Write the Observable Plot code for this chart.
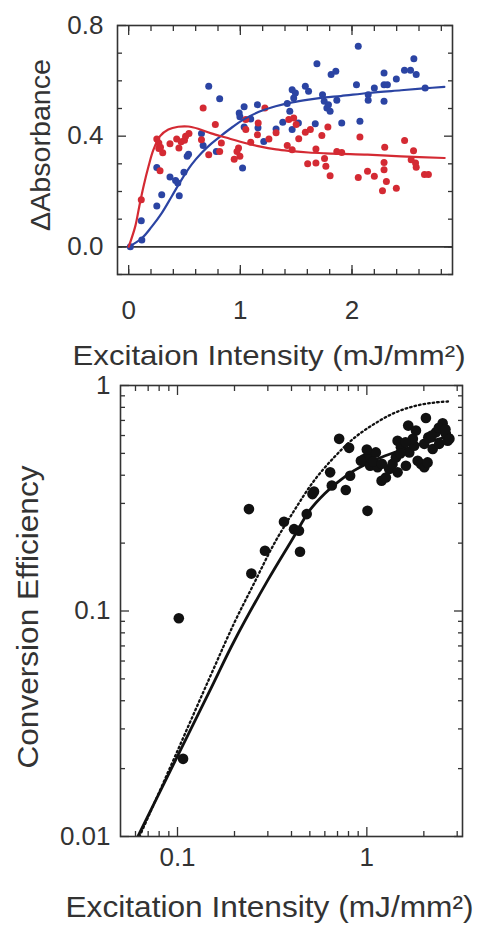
<!DOCTYPE html>
<html><head><meta charset="utf-8">
<script src="https://cdn.jsdelivr.net/npm/d3@7"></script>
<script src="https://cdn.jsdelivr.net/npm/@observablehq/plot@0.6"></script>
<style>
body{margin:0;background:#fff;}
#chart{width:480px;height:926px;}
#chart svg{display:block;}
</style></head><body><div id="chart"></div>
<script>
// ---------- Top panel data (ΔAbsorbance vs excitation intensity) ----------
const blueX = [0.015,0.118,0.113,0.252,0.296,0.252,0.37,0.42,0.44,0.453,0.495,0.524,0.536,0.652,0.667,0.717,0.815,0.785,0.99,1.034,0.996,1.093,1.153,1.034,1.158,1.02,1.21,1.32,1.38,1.42,1.443,1.464,1.493,1.478,1.464,1.52,1.582,1.611,1.686,1.671,1.736,1.751,1.775,1.789,1.804,1.813,1.855,1.864,1.908,2.056,2.04,2.071,2.145,2.145,2.2,2.287,2.287,2.317,2.287,2.397,2.47,2.524,2.554,2.575,2.655];
const blueY = [0.0,0.025,0.094,0.148,0.188,0.287,0.252,0.24,0.231,0.185,0.27,0.327,0.335,0.41,0.366,0.58,0.535,0.345,0.484,0.506,0.47,0.462,0.514,0.433,0.43,0.285,0.381,0.426,0.45,0.518,0.49,0.568,0.556,0.538,0.424,0.448,0.58,0.562,0.662,0.445,0.55,0.526,0.502,0.514,0.49,0.623,0.635,0.53,0.448,0.725,0.586,0.454,0.55,0.53,0.574,0.628,0.586,0.586,0.526,0.607,0.638,0.638,0.68,0.623,0.574];
const redX = [0.113,0.252,0.27,0.285,0.305,0.27,0.281,0.37,0.43,0.45,0.47,0.5,0.51,0.54,0.667,0.652,0.717,0.776,0.83,0.815,0.945,0.984,0.996,0.97,1.22,1.049,1.16,1.153,1.049,1.093,1.256,1.32,1.434,1.478,1.5,1.42,1.464,1.523,1.582,1.627,1.784,1.73,1.677,1.603,1.677,1.754,1.766,1.804,1.864,1.908,2.071,2.056,2.139,2.2,2.293,2.287,2.287,2.308,2.273,2.397,2.471,2.551,2.53,2.569,2.575,2.649,2.684];
const redY = [0.17,0.39,0.375,0.36,0.34,0.355,0.275,0.373,0.39,0.357,0.38,0.385,0.4,0.41,0.502,0.387,0.333,0.442,0.375,0.345,0.317,0.357,0.327,0.345,0.502,0.46,0.448,0.405,0.424,0.378,0.39,0.412,0.46,0.466,0.442,0.366,0.351,0.391,0.414,0.424,0.433,0.402,0.354,0.30,0.303,0.319,0.291,0.257,0.345,0.341,0.397,0.251,0.273,0.255,0.36,0.305,0.279,0.236,0.203,0.212,0.384,0.347,0.315,0.303,0.288,0.261,0.261];
const blueFitX = [0,0.118,0.207,0.296,0.385,0.474,0.563,0.652,0.74,0.829,0.933,1.02,1.167,1.316,1.464,1.612,1.76,1.9,2.145,2.44,2.649,2.827];
const blueFitY = [0,0.031,0.073,0.122,0.182,0.243,0.297,0.339,0.373,0.402,0.434,0.458,0.488,0.508,0.522,0.532,0.54,0.545,0.556,0.566,0.573,0.578];
const redFitX = [0,0.059,0.095,0.133,0.178,0.222,0.281,0.355,0.444,0.533,0.622,0.74,0.87,1.0,1.17,1.32,1.46,1.61,1.76,1.9,2.14,2.44,2.83];
const redFitY = [0,0.074,0.146,0.218,0.291,0.351,0.4,0.424,0.434,0.435,0.427,0.41,0.395,0.38,0.363,0.352,0.346,0.341,0.338,0.336,0.333,0.327,0.321];
const topXLabels = [0, 1, 2];
const topXMinor = [0,0.2,0.4,0.6,0.8,1,1.2,1.4,1.6,1.8,2,2.2,2.4,2.6,2.8];
const topYLabels = [0, 0.4, 0.8];
const topYMinor = [-0.1,0,0.1,0.2,0.3,0.5,0.6,0.7];

// ---------- Bottom panel data (conversion efficiency, log-log) ----------
const effX = [0.1016,0.107,0.2384,0.2455,0.2897,0.365,0.4125,0.438,0.4436,0.4814,0.516,0.526,0.64,0.653,0.714,0.806,0.774,0.816,1.008,1.196,0.968,1.028,1.116,1.041,1.139,0.93,1.312,1.367,1.424,1.453,1.513,1.453,1.608,1.675,1.654,1.817,1.779,1.855,1.931,2.01,2.051,2.111,2.227,2.317,2.41,2.514,2.618,2.672,2.01,2.093,1.26,2.73,1.0,1.08,1.5,1.75,2.2,2.4,2.6,1.2,1.6];
const effY = [0.0928,0.0221,0.283,0.1465,0.185,0.2486,0.2307,0.227,0.183,0.269,0.33,0.339,0.412,0.36,0.58,0.529,0.344,0.398,0.278,0.378,0.472,0.497,0.505,0.441,0.434,0.464,0.426,0.449,0.48,0.569,0.532,0.412,0.441,0.505,0.664,0.631,0.541,0.464,0.449,0.551,0.718,0.589,0.523,0.62,0.551,0.68,0.61,0.569,0.434,0.456,0.391,0.58,0.52,0.46,0.5,0.58,0.6,0.65,0.64,0.45,0.56];
const solidFitX = [0.0617,0.1,0.15,0.2,0.3,0.4,0.5,0.6,0.7,0.85,1.0,1.25,1.5,2.0,2.8];
const solidFitY = [0.01,0.0227,0.0453,0.074,0.137,0.205,0.28,0.332,0.372,0.418,0.45,0.488,0.515,0.555,0.6];
const dottedFitX = [0.063,0.1,0.15,0.2,0.253,0.323,0.4125,0.526,0.671,0.857,1.093,1.395,1.78,2.27,2.73];
const dottedFitY = [0.01,0.024,0.052,0.089,0.132,0.198,0.278,0.378,0.48,0.585,0.675,0.755,0.81,0.84,0.85];
const botXLabels = [0.1, 1];
const botXMinor = [0.06,0.07,0.08,0.09,0.2,0.3,0.4,0.5,0.6,0.7,0.8,0.9,2,3];
const botYLabels = [0.01, 0.1, 1];
const botYMinor = [0.02,0.03,0.04,0.05,0.06,0.07,0.08,0.09,0.2,0.3,0.4,0.5,0.6,0.7,0.8,0.9];

// ---------- Titles ----------
const topYTitle = "ΔAbsorbance";
const topXTitle = "Excitaion Intensity (mJ/mm²)";
const botYTitle = "Conversion Efficiency";
const botXTitle = "Excitation Intensity (mJ/mm²)";

const RED = "#d42a33", BLUE = "#2b44a3", INK = "#333";
const FONT = "'Liberation Sans', Arial, Helvetica, sans-serif";
const zip = (xs, ys) => xs.map((x, i) => ({x, y: ys[i]}));
const noText = () => null;

function tickAxes(xMinor, xMajor, yMinor, yMajor) {
  const o = {tickFormat: noText, label: null, strokeWidth: 1.3};
  return [
    Plot.axisX(xMinor, {...o, anchor: "bottom", tickSize: -5}),
    Plot.axisX(xMinor, {...o, anchor: "top", tickSize: -5}),
    Plot.axisX(xMajor, {...o, anchor: "bottom", tickSize: -9}),
    Plot.axisX(xMajor, {...o, anchor: "top", tickSize: -9}),
    Plot.axisY(yMinor, {...o, anchor: "left", tickSize: -5}),
    Plot.axisY(yMinor, {...o, anchor: "right", tickSize: -5}),
    Plot.axisY(yMajor, {...o, anchor: "left", tickSize: -9}),
    Plot.axisY(yMajor, {...o, anchor: "right", tickSize: -9})
  ];
}

const topPlot = Plot.plot({
  width: 480, height: 375,
  marginLeft: 117, marginRight: 28, marginTop: 25, marginBottom: 101,
  style: {fontFamily: FONT, color: INK, background: "white", overflow: "visible"},
  x: {domain: [-0.1, 2.9]},
  y: {domain: [-0.1, 0.8]},
  marks: [
    Plot.ruleY([0], {stroke: INK, strokeWidth: 1.6}),
    Plot.dot(zip(blueX, blueY), {x: "x", y: "y", r: 3.5, fill: BLUE}),
    Plot.dot(zip(redX, redY), {x: "x", y: "y", r: 3.5, fill: RED}),
    Plot.line(zip(blueFitX, blueFitY), {x: "x", y: "y", stroke: BLUE, strokeWidth: 2.2, curve: "catmull-rom"}),
    Plot.line(zip(redFitX, redFitY), {x: "x", y: "y", stroke: RED, strokeWidth: 2.2, curve: "catmull-rom"}),
    Plot.frame({stroke: INK, strokeWidth: 1.6}),
    ...tickAxes(topXMinor, topXLabels, topYMinor, topYLabels),
    Plot.axisX(topXLabels, {anchor: "bottom", tickSize: 0, tickPadding: 26, fontSize: 26, label: null, tickFormat: d3.format("d")}),
    Plot.axisY(topYLabels, {anchor: "left", tickSize: 0, tickPadding: 14, fontSize: 26, label: null, tickFormat: d3.format(".1f")}),
    Plot.text([topYTitle], {text: d => d, frameAnchor: "left", textAnchor: "middle", lineAnchor: "middle", rotate: -90, dx: -76, dy: -5, fontSize: 28, fill: INK}),
    Plot.text([topXTitle], {text: d => d, frameAnchor: "bottom", textAnchor: "middle", lineAnchor: "middle", dy: 82, dx: -16, fontSize: 28, fill: INK})
  ]
});

const botPlot = Plot.plot({
  width: 480, height: 551,
  marginLeft: 120, marginRight: 18, marginTop: 10, marginBottom: 90,
  style: {fontFamily: FONT, color: INK, background: "white", overflow: "visible"},
  x: {type: "log", domain: [0.05, 3.2]},
  y: {type: "log", domain: [0.01, 1]},
  marks: [
    Plot.line(zip(dottedFitX, dottedFitY), {x: "x", y: "y", stroke: "#111", strokeWidth: 2.3, strokeDasharray: "1.6,3", curve: "catmull-rom", clip: true}),
    Plot.line(zip(solidFitX, solidFitY), {x: "x", y: "y", stroke: "#111", strokeWidth: 2.8, curve: "catmull-rom", clip: true}),
    Plot.dot(zip(effX, effY), {x: "x", y: "y", r: 5.3, fill: "#111"}),
    Plot.frame({stroke: INK, strokeWidth: 1.6}),
    ...tickAxes(botXMinor, botXLabels, botYMinor, botYLabels),
    Plot.axisX(botXLabels, {anchor: "bottom", tickSize: 0, tickPadding: 11, fontSize: 26, label: null, tickFormat: d => String(d)}),
    Plot.axisY(botYLabels, {anchor: "left", tickSize: 0, tickPadding: 10, fontSize: 26, label: null, tickFormat: d => String(d)}),
    Plot.text([botYTitle], {text: d => d, frameAnchor: "left", textAnchor: "middle", lineAnchor: "middle", rotate: -90, dx: -92, dy: 6, fontSize: 30, fill: INK}),
    Plot.text([botXTitle], {text: d => d, frameAnchor: "bottom", textAnchor: "middle", lineAnchor: "middle", dy: 71, dx: -22, fontSize: 30, fill: INK})
  ]
});

// stretch titles to the reference's measured widths
function stretch(svg, title, len) {
  d3.select(svg).selectAll("text")
    .filter(function() { return this.textContent === title; })
    .attr("textLength", len).attr("lengthAdjust", "spacingAndGlyphs");
}
stretch(topPlot, topYTitle, 172);
stretch(topPlot, topXTitle, 393);
stretch(botPlot, botYTitle, 303);
stretch(botPlot, botXTitle, 408);

const root = document.getElementById("chart");
root.appendChild(topPlot);
root.appendChild(botPlot);
</script>
</body></html>
